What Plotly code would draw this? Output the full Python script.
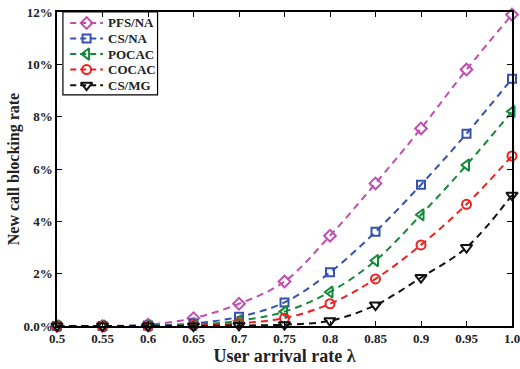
import plotly.graph_objects as go

# ---- data ----
x = [0.5, 0.55, 0.6, 0.65, 0.7, 0.75, 0.8, 0.85, 0.9, 0.95, 1.0]
pfs_na = [0.0, 0.0, 0.05, 0.3, 0.85, 1.7, 3.45, 5.45, 7.55, 9.8, 11.9]
cs_na = [0.0, 0.0, 0.02, 0.1, 0.35, 0.9, 2.05, 3.6, 5.4, 7.35, 9.45]
pocac = [0.0, 0.0, 0.01, 0.05, 0.2, 0.55, 1.3, 2.5, 4.25, 6.15, 8.2]
cocac = [0.0, 0.0, 0.0, 0.02, 0.1, 0.3, 0.85, 1.8, 3.1, 4.65, 6.5]
cs_mg = [0.0, 0.0, 0.0, 0.0, 0.02, 0.05, 0.2, 0.8, 1.85, 3.0, 5.0]

names = ["PFS/NA", "CS/NA", "POCAC", "COCAC", "CS/MG"]
series = [pfs_na, cs_na, pocac, cocac, cs_mg]

y_ticks = [0, 2, 4, 6, 8, 10, 12]
y_ticktext = ["0.0%", "2%", "4%", "6%", "8%", "10%", "12%"]
x_ticktext = ["0.5", "0.55", "0.6", "0.65", "0.7", "0.75", "0.8", "0.85", "0.9", "0.95", "1.0"]

# ---- styles ----
colors = ["#c04eb0", "#3552b0", "#16883a", "#ee2020", "#111111"]
symbols = ["diamond-open", "square-open", "triangle-left-open", "circle-open", "triangle-down-open"]
msizes = [9, 8, 10, 9, 10]
font_family = "Liberation Serif"
dash = "7px,5px"

fig = go.Figure()
for n, s, c, m, ms in zip(names, series, colors, symbols, msizes):
    fig.add_trace(go.Scatter(
        x=x, y=s, name=n, mode="lines+markers", showlegend=False,
        line=dict(color=c, width=2, dash=dash, shape="spline"),
        marker=dict(symbol=m, size=ms, color=c, line=dict(width=2, color=c)),
        cliponaxis=False,
    ))

# ---- hand-made legend (box geometry in plot-area fractions) ----
leg_x0, leg_x1, leg_y1, leg_y0 = 0.013, 0.221, 1.0, 0.736
row_top, row_step = 0.965, 0.0495
key_x0, key_xm, key_x1, text_x = 0.029, 0.065, 0.101, 0.108
fig.add_shape(type="rect", xref="paper", yref="paper",
              x0=leg_x0, x1=leg_x1, y0=leg_y0, y1=leg_y1,
              line=dict(color="black", width=1.2), fillcolor="white", layer="below")
for i, (n, c, m, ms) in enumerate(zip(names, colors, symbols, msizes)):
    ry = row_top - i * row_step
    fig.add_trace(go.Scatter(
        x=[key_x0, key_x1], y=[ry, ry], xaxis="x2", yaxis="y2", mode="lines",
        line=dict(color=c, width=2, dash="6px,4px"), showlegend=False, hoverinfo="skip"))
    fig.add_trace(go.Scatter(
        x=[key_xm], y=[ry], xaxis="x2", yaxis="y2", mode="markers",
        marker=dict(symbol=m, size=ms, color=c, line=dict(width=2, color=c)),
        showlegend=False, hoverinfo="skip", cliponaxis=False))
    fig.add_annotation(x=text_x, y=ry, xref="paper", yref="paper", text=n,
                       showarrow=False, xanchor="left", yanchor="middle",
                       font=dict(family=font_family, size=13, color="#222222", weight="bold"))

fig.update_layout(
    width=520, height=369,
    margin=dict(l=57, r=8, t=12, b=43),
    paper_bgcolor="white", plot_bgcolor="white",
    font=dict(family=font_family, color="#222222"),
    showlegend=False,
    xaxis=dict(
        range=[0.5, 1.0], tickvals=x, ticktext=x_ticktext, automargin=False,
        ticklabeloverflow="allow",
        showgrid=False, zeroline=False,
        showline=True, linecolor="black", linewidth=1.5, mirror="ticks",
        ticks="inside", ticklen=5, tickcolor="black",
        tickfont=dict(family=font_family, size=13, weight="bold"),
        title=dict(text="User arrival rate λ", font=dict(family=font_family, size=18, weight="bold"), standoff=4),
    ),
    yaxis=dict(
        range=[0, 12], tickvals=y_ticks, ticktext=y_ticktext, automargin=False,
        ticklabeloverflow="allow",
        showgrid=False, zeroline=False,
        showline=True, linecolor="black", linewidth=1.5, mirror="ticks",
        ticks="inside", ticklen=5, tickcolor="black",
        tickfont=dict(family=font_family, size=13, weight="bold"),
        title=dict(text="New call blocking rate", font=dict(family=font_family, size=16, weight="bold"), standoff=0),
    ),
    xaxis2=dict(overlaying="x", range=[0, 1], visible=False, anchor="y2"),
    yaxis2=dict(overlaying="y", range=[0, 1], visible=False, anchor="x2"),
)

fig.write_html("out.html", config={"displayModeBar": False},
               post_script="document.body.style.margin='0';document.body.style.overflow='hidden';")
